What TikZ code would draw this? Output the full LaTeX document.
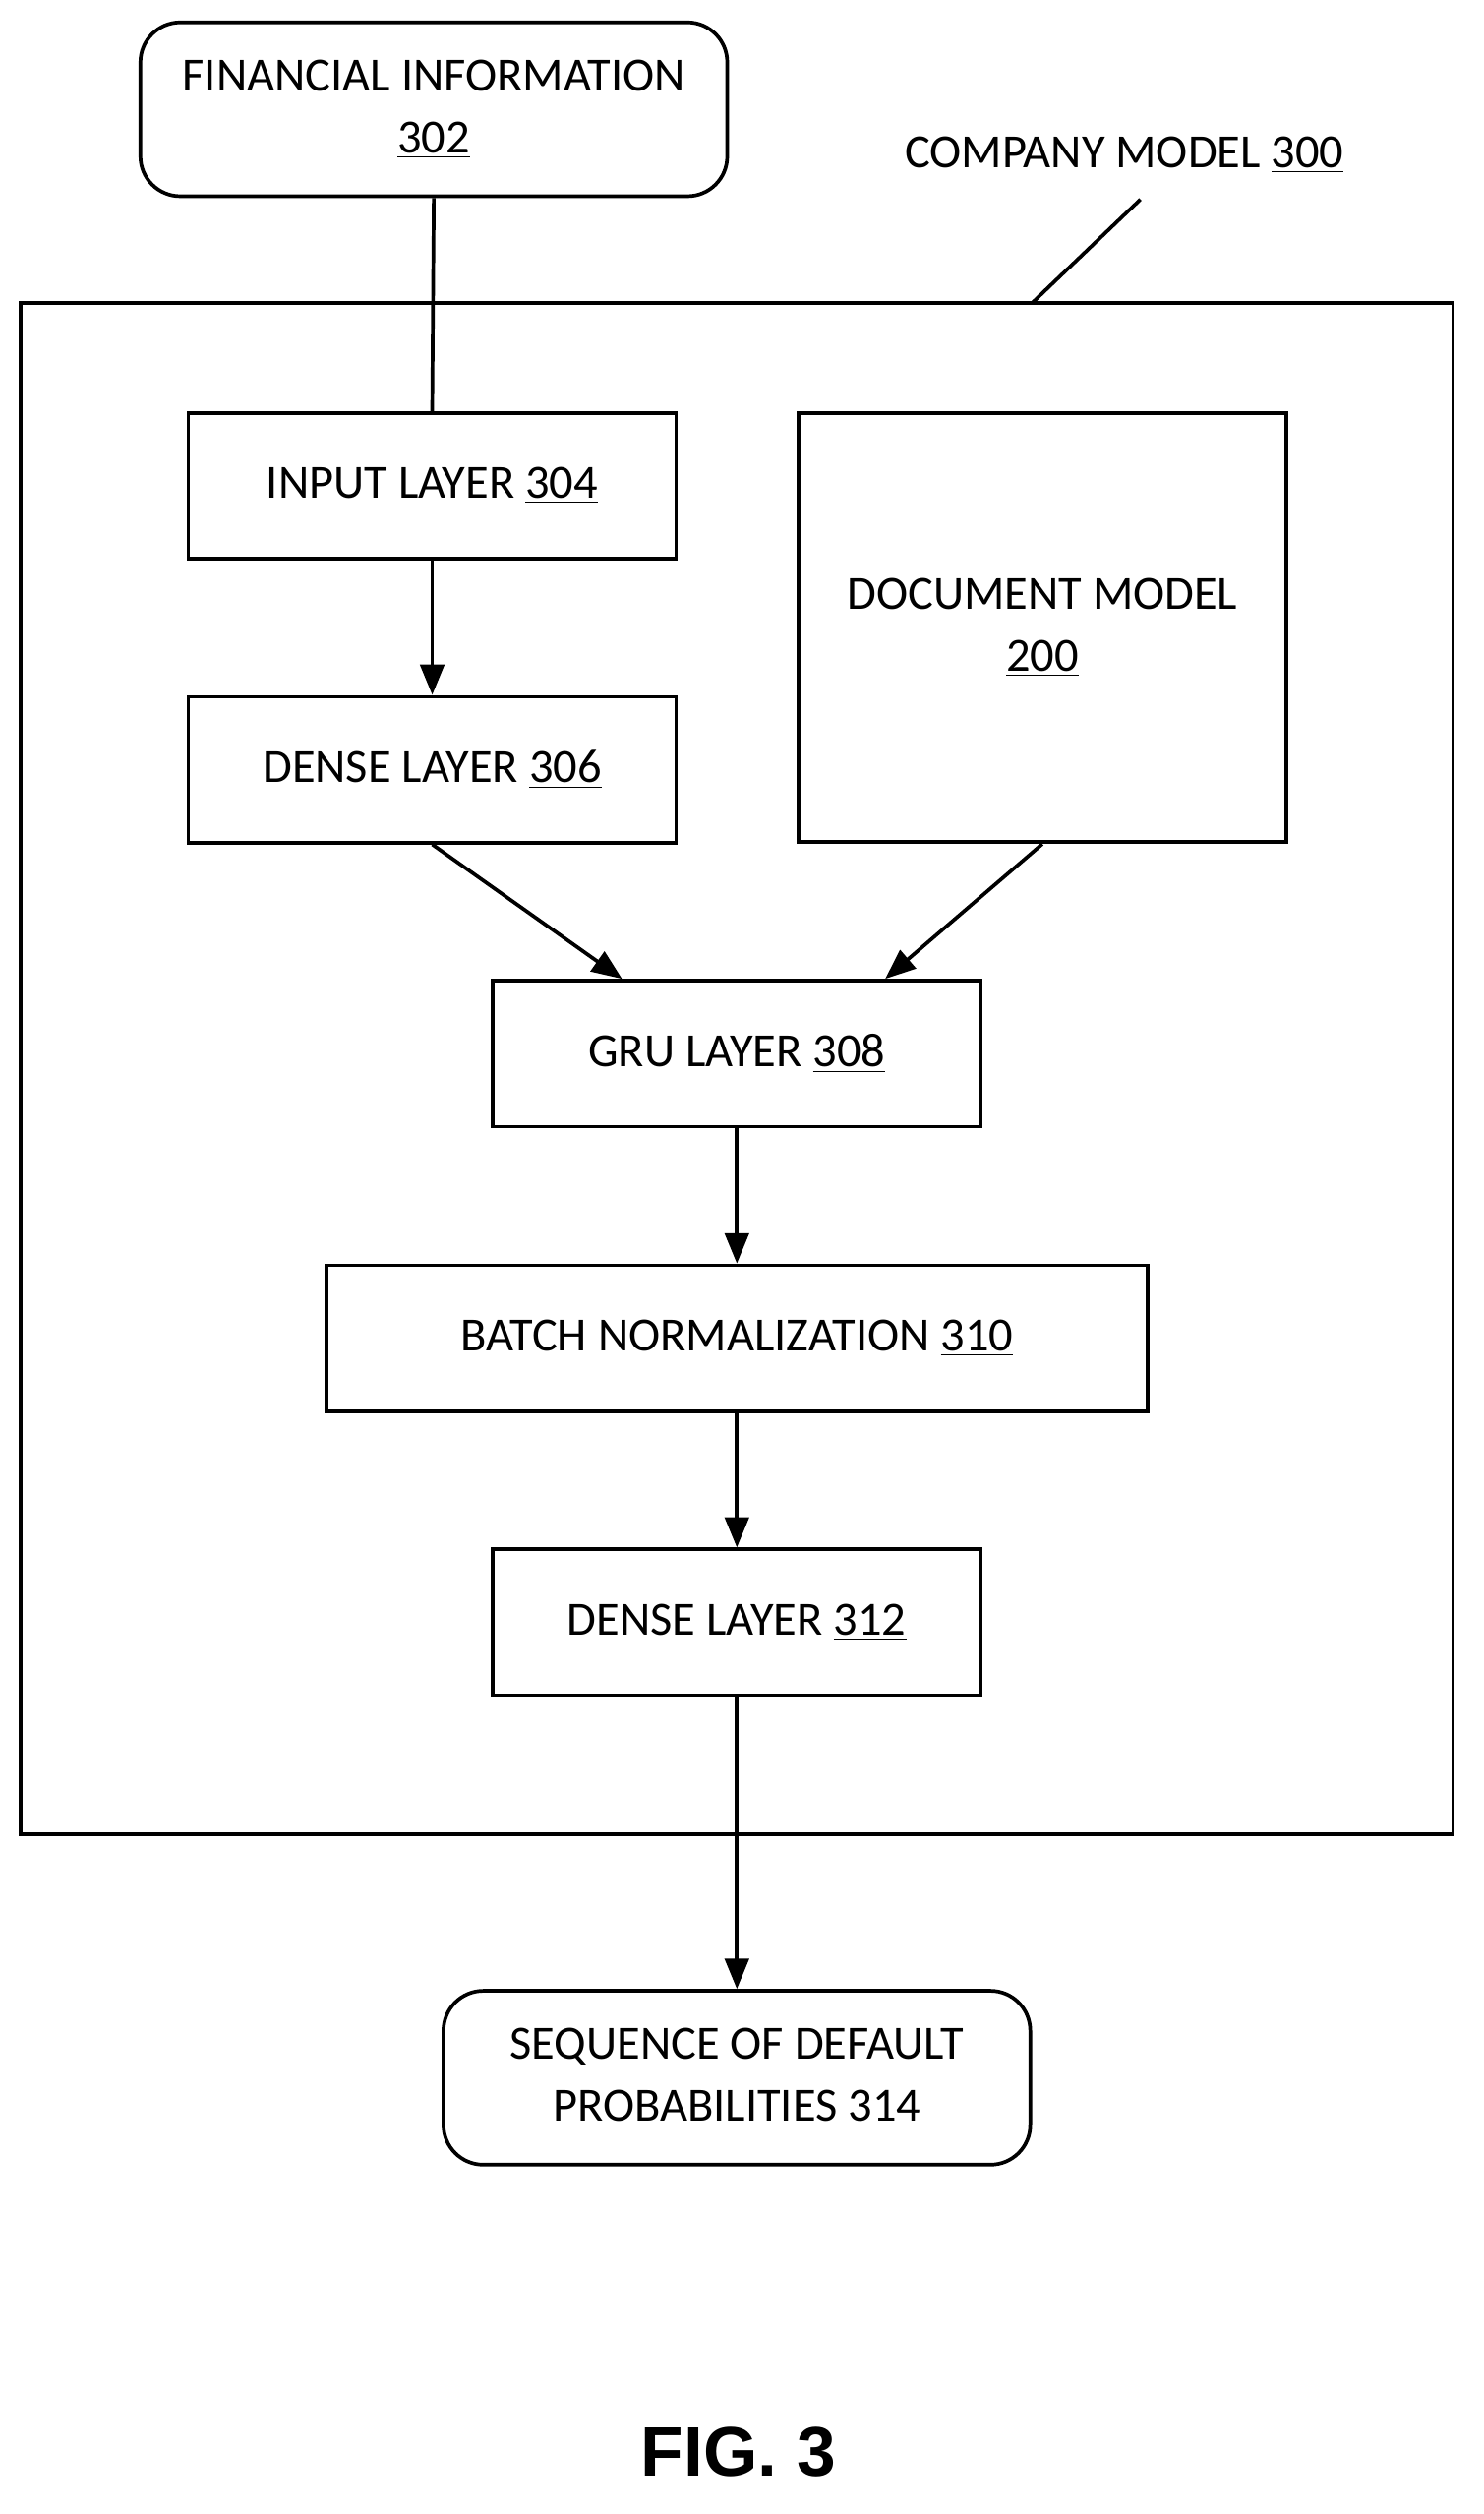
\documentclass[tikz,border=0pt]{standalone}
\usepackage{fontspec}
\setmainfont{Carlito}
\newfontfamily\figfont{Liberation Sans}
\usetikzlibrary{arrows.meta}
\tikzset{
  layer/.style={draw, line width=1.3pt, minimum width=6.12cm, minimum height=1.83cm, align=center, inner sep=0pt},
  ioBox/.style={layer, rounded corners=0.5cm, minimum width=7.36cm, minimum height=2.18cm},
  flow/.style={line width=1.3pt, -{Triangle[length=0.38cm, width=0.3cm]}}
}
\begin{document}
\begin{tikzpicture}[x=0.02cm, y=-0.02cm, font=\fontsize{17}{22}\selectfont]
        \useasboundingbox (0,0) rectangle (930,1576);

        % Company model frame
        \draw[line width=1.3pt] (13,190) rectangle (911,1150);
        \node (cmLabel) at (705,97) {COMPANY MODEL \underline{300}};
        \coordinate (cmTop) at (715,125);
        \coordinate (cmFrame) at (647,190);
        \draw[line width=1.3pt] (cmTop) -- (cmFrame);

        % Input and output
        \node[ioBox] (finInfo) at (272,68.5) {FINANCIAL INFORMATION\\\underline{302}};
        \node[ioBox] (seqProb) at (462,1302.5) {SEQUENCE OF DEFAULT\\PROBABILITIES \underline{314}};

        % Layers
        \node[layer] (inputLayer) at (271,304.5) {INPUT LAYER \underline{304}};
        \node[layer] (denseA) at (271,482.5) {DENSE LAYER \underline{306}};
        \node[layer, minimum height=5.38cm] (docModel) at (653.5,393.5) {DOCUMENT MODEL\\\underline{200}};
        \node[layer] (gruLayer) at (462,660.5) {GRU LAYER \underline{308}};
        \node[layer, minimum width=10.3cm] (batchNorm) at (462,839) {BATCH NORMALIZATION \underline{310}};
        \node[layer] (denseB) at (462,1017) {DENSE LAYER \underline{312}};

        % Connections
        \draw[line width=1.3pt] (finInfo.south) -- (inputLayer.north);
        \draw[flow] (inputLayer) -- (denseA);
        \draw[flow] (denseA.south) -- (gruLayer.north -| 390,0);
        \draw[flow] (docModel.south) -- (gruLayer.north -| 555,0);
        \draw[flow] (gruLayer) -- (batchNorm);
        \draw[flow] (batchNorm) -- (denseB);
        \draw[flow] (denseB) -- (seqProb);

        % Figure label
        \node[font=\figfont\fontsize{25}{30}\selectfont\bfseries] (figLabel) at (463,1537) {FIG. 3};
    \end{tikzpicture}
\end{document}
